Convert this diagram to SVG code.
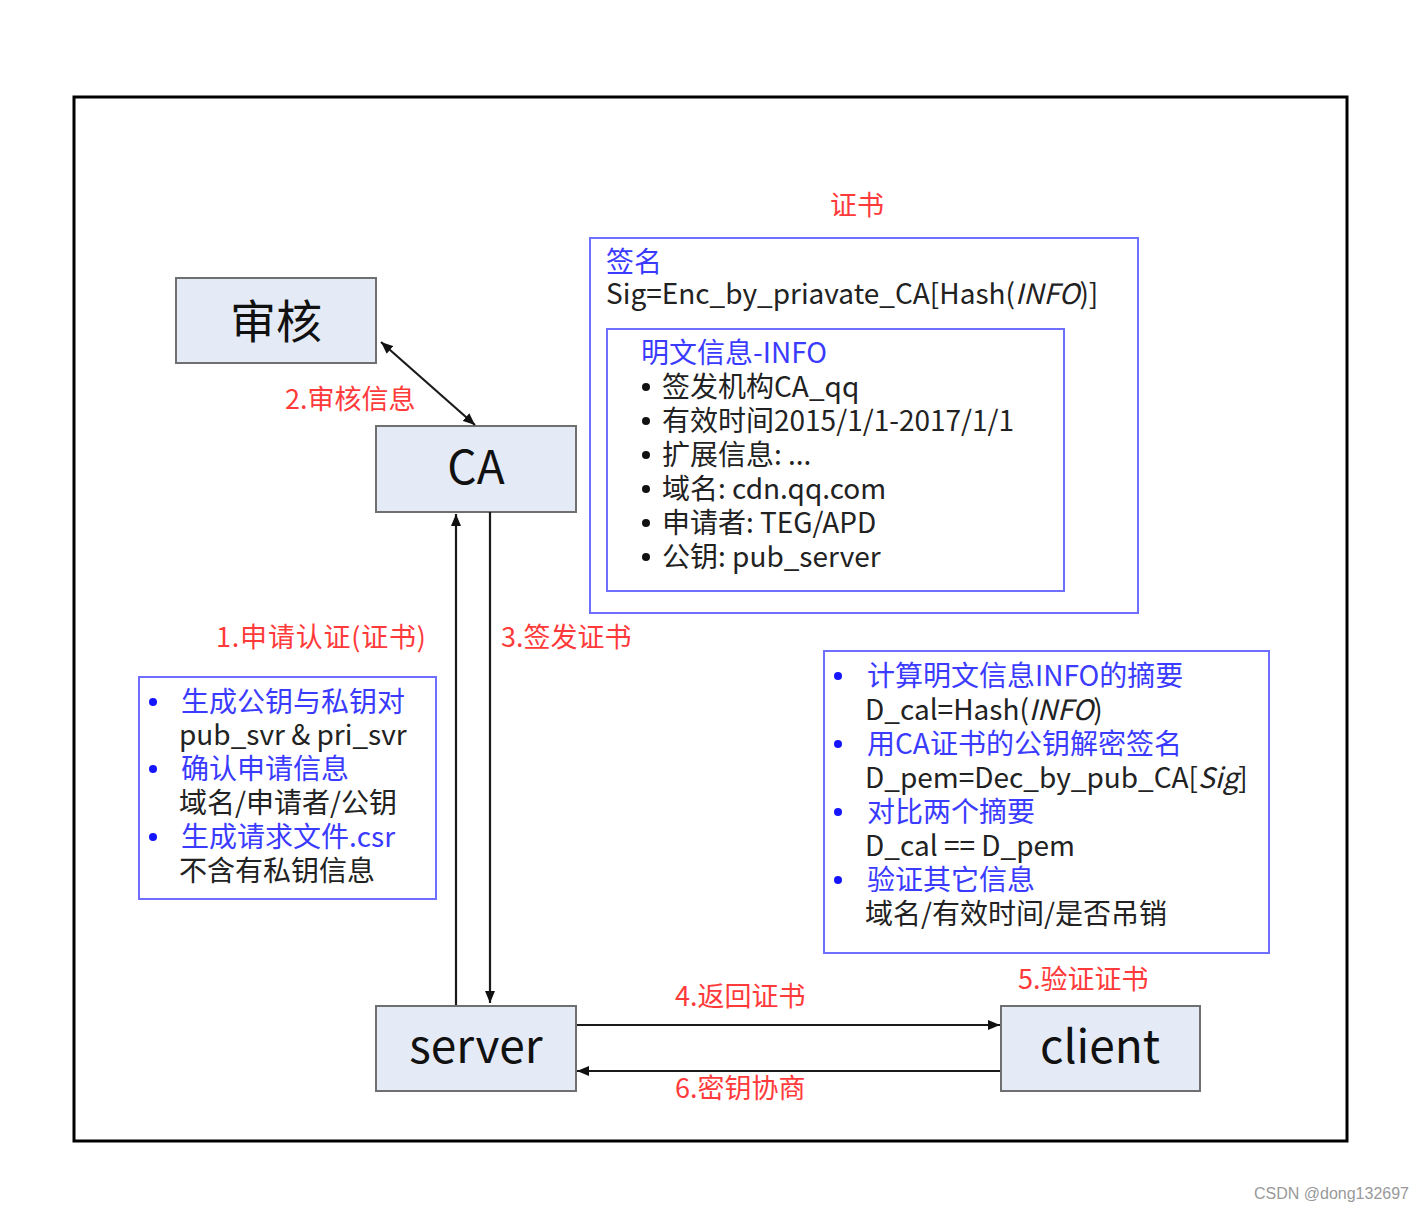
<svg xmlns="http://www.w3.org/2000/svg" width="1423" height="1212" viewBox="0 0 1423 1212">
<style>
text{font-family:"Noto Sans CJK SC","Noto Sans",sans-serif}
.node rect{fill:#e5ebf6;stroke:#6f6f6f;stroke-width:2}
.nl{font-size:46px;fill:#111;text-anchor:middle}
.red{font-size:27px;fill:#ff3a3a}
.blue{fill:#3b3bff}
.blk{fill:#222}
.box{fill:none;stroke:#6e6eff;stroke-width:2}
.t{font-size:28px}
.bb{fill:#1515ff}
.bk{fill:#111}
.conn line{stroke:#1a1a1a;stroke-width:2.2;fill:none}
</style>
<defs>
<marker id="ah" viewBox="0 0 12 10" refX="12" refY="5" markerWidth="12" markerHeight="10" orient="auto-start-reverse" markerUnits="userSpaceOnUse"><path d="M0,0 L12,5 L0,10 z" fill="#111"/></marker>
</defs>
<rect x="0" y="0" width="1423" height="1212" fill="#fff"/>
<rect x="74" y="97" width="1273" height="1044" fill="none" stroke="#000" stroke-width="3"/>

<g id="node-shenhe" class="node"><rect x="176" y="278" width="200" height="85"/><text class="nl" x="276" y="338" font-size="48">审核</text></g>
<g id="node-ca" class="node"><rect x="376" y="426" width="200" height="86"/><text class="nl" x="476" y="484" font-size="48">CA</text></g>
<g id="node-server" class="node"><rect x="376" y="1006" width="200" height="85"/><text class="nl" x="476" y="1063">server</text></g>
<g id="node-client" class="node"><rect x="1001" y="1006" width="199" height="85"/><text class="nl" x="1100" y="1063">client</text></g>

<g id="connectors" class="conn">
<line x1="381" y1="342" x2="475" y2="425" marker-start="url(#ah)" marker-end="url(#ah)"/>
<line x1="456" y1="1005" x2="456" y2="514" marker-end="url(#ah)"/>
<line x1="490" y1="512" x2="490" y2="1003" marker-end="url(#ah)"/>
<line x1="577" y1="1025" x2="1000" y2="1025" marker-end="url(#ah)"/>
<line x1="1000" y1="1071" x2="577" y2="1071" marker-end="url(#ah)"/>
</g>

<g id="labels">
<text class="red" x="285" y="409">2.审核信息</text>
<text class="red" x="216" y="647" textLength="210">1.申请认证(证书)</text>
<text class="red" x="501" y="647">3.签发证书</text>
<text class="red" x="675" y="1006">4.返回证书</text>
<text class="red" x="1018" y="989">5.验证证书</text>
<text class="red" x="675" y="1098">6.密钥协商</text>
<text class="red" x="830" y="215">证书</text>
</g>

<g id="node-cert">
<rect class="box" x="590" y="238" width="548" height="375"/>
<text class="t blue" x="606" y="272">签名</text>
<text class="t blk" x="606" y="304">Sig=Enc_by_priavate_CA[Hash(<tspan font-style="italic">INFO</tspan>)]</text>
<rect class="box" x="607" y="329" width="457" height="262"/>
<text class="t blue" x="641" y="363">明文信息-INFO</text>
<g class="bk">
<circle cx="646" cy="387" r="4"/><circle cx="646" cy="421" r="4"/><circle cx="646" cy="455" r="4"/>
<circle cx="646" cy="489" r="4"/><circle cx="646" cy="523" r="4"/><circle cx="646" cy="557" r="4"/>
</g>
<g class="t blk">
<text x="662" y="397">签发机构CA_qq</text>
<text x="662" y="431">有效时间2015/1/1-2017/1/1</text>
<text x="662" y="465">扩展信息: ...</text>
<text x="662" y="499">域名: cdn.qq.com</text>
<text x="662" y="533">申请者: TEG/APD</text>
<text x="662" y="567">公钥: pub_server</text>
</g>
</g>

<g id="node-csr">
<rect class="box" x="139" y="677" width="297" height="222"/>
<g class="bb"><circle cx="153" cy="702" r="4"/><circle cx="153" cy="769" r="4"/><circle cx="153" cy="837" r="4"/></g>
<g class="t">
<text class="blue" x="181" y="712">生成公钥与私钥对</text>
<text class="blk" x="179" y="745">pub_svr &amp; pri_svr</text>
<text class="blue" x="181" y="779">确认申请信息</text>
<text class="blk" x="179" y="813">域名/申请者/公钥</text>
<text class="blue" x="181" y="847">生成请求文件.csr</text>
<text class="blk" x="179" y="881">不含有私钥信息</text>
</g>
</g>

<g id="node-verify">
<rect class="box" x="824" y="651" width="445" height="302"/>
<g class="bb"><circle cx="838" cy="676" r="4"/><circle cx="838" cy="744" r="4"/><circle cx="838" cy="812" r="4"/><circle cx="838" cy="880" r="4"/></g>
<g class="t">
<text class="blue" x="867" y="686">计算明文信息INFO的摘要</text>
<text class="blk" x="865" y="720">D_cal=Hash(<tspan font-style="italic">INFO</tspan>)</text>
<text class="blue" x="867" y="754">用CA证书的公钥解密签名</text>
<text class="blk" x="865" y="788">D_pem=Dec_by_pub_CA[<tspan font-style="italic">Sig</tspan>]</text>
<text class="blue" x="867" y="822">对比两个摘要</text>
<text class="blk" x="865" y="856">D_cal == D_pem</text>
<text class="blue" x="867" y="890">验证其它信息</text>
<text class="blk" x="865" y="924">域名/有效时间/是否吊销</text>
</g>
</g>

<text x="1254" y="1199" font-size="16" fill="#999" style="font-family:'Liberation Sans',sans-serif">CSDN @dong132697</text>
</svg>
